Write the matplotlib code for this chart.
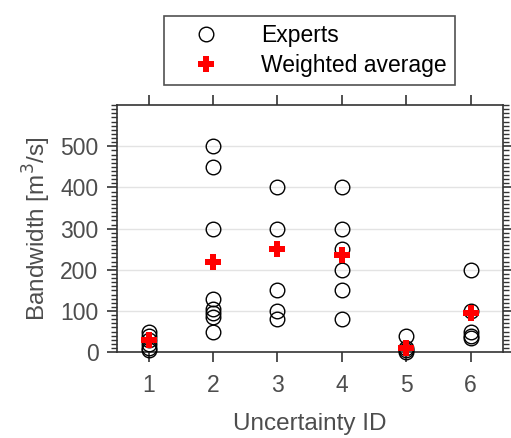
import matplotlib.pyplot as plt
from matplotlib.ticker import MultipleLocator

# expert estimates per uncertainty ID
ids = [1, 2, 3, 4, 5, 6]
experts = [
    [5, 10, 20, 30, 40, 50],
    [500, 450, 300, 130, 105, 95, 85, 50],
    [400, 300, 150, 100, 80],
    [400, 300, 250, 200, 150, 80],
    [40, 10, 5, 0],
    [200, 100, 50, 40, 35],
]
weighted_avg = [30, 220, 250, 235, 10, 95]

plt.rcParams['font.family'] = ['Liberation Sans', 'DejaVu Sans']
grey = '#4d4d4d'

fig = plt.figure(figsize=(5.11, 4.38), dpi=100)
ax = fig.add_axes([0.228, 0.196, 0.756, 0.564])

ex_x = []
ex_y = []
for i, vals in zip(ids, experts):
    ex_x += [i] * len(vals)
    ex_y += vals

h1, = ax.plot(ex_x, ex_y, 'o', mfc='none', mec='black', ms=10.5, mew=1.0,
              linestyle='none', label='Experts', zorder=3, clip_on=False)
h2, = ax.plot(ids, weighted_avg, 'P', color='red', ms=11, mew=0,
              linestyle='none', label='Weighted average', zorder=4, clip_on=False)

ax.set_xlim(0.5, 6.5)
ax.set_ylim(0, 600)
ax.set_xticks(ids)
ax.set_yticks([0, 100, 200, 300, 400, 500])
ax.yaxis.set_minor_locator(MultipleLocator(10))
ax.yaxis.grid(True, color='#e3e3e3', lw=1)
ax.set_axisbelow(True)

ax.tick_params(axis='both', which='major', direction='out', length=7, width=1.2,
               colors='#333333', labelcolor=grey, labelsize=16.5)
ax.tick_params(axis='x', top=True, pad=9)
ax.tick_params(axis='y', right=True, pad=6)
ax.tick_params(axis='y', which='minor', direction='out', length=4, width=1,
               right=True, colors='#333333')
for s in ax.spines.values():
    s.set_color('#333333')
    s.set_linewidth(1.2)

ax.set_xlabel('Uncertainty ID', fontsize=17.5, color=grey, labelpad=11)
ax.set_ylabel('Bandwidth [m$^3$/s]', fontsize=17.5, color=grey, labelpad=5)

leg = fig.legend(handles=[h1, h2], loc='upper center', bbox_to_anchor=(0.605, 0.99),
                 fontsize=16.5, frameon=True, fancybox=False, edgecolor='#262626',
                 handletextpad=0.9, borderpad=0.35, labelspacing=0.3, handlelength=3.0)
leg.get_frame().set_linewidth(1.2)

fig.savefig('out.png', dpi=100)
